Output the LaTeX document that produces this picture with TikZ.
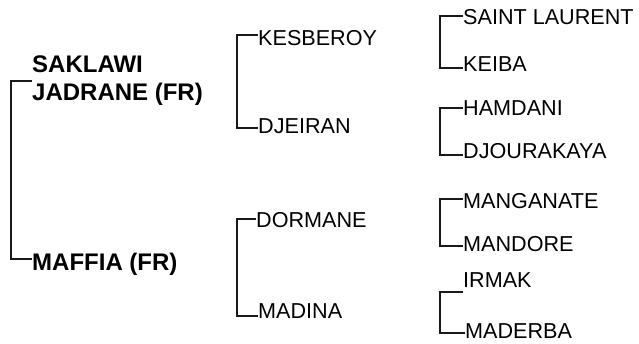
\documentclass[tikz,border=0pt]{standalone}
\usepackage{fontspec}
\setmainfont{Liberation Sans}
\begin{document}
\begin{tikzpicture}[x=1pt,y=-1pt,
  sire/.style={anchor=base west,inner sep=0pt,font=\fontsize{24}{26}\selectfont\bfseries},
  anc/.style={anchor=base west,inner sep=0pt,font=\fontsize{21.6}{24}\selectfont},
  bracket/.style={line width=2.6pt,color=black!90}]
\useasboundingbox (0,0) rectangle (639,343);
% generation 1
\node[sire] (sak) at (32,72) {SAKLAWI};
\node[sire] (jad) at (32,100) {JADRANE (FR)};
\node[sire] (maf) at (32,270) {MAFFIA (FR)};
\coordinate (g1t) at (11,81);
\coordinate (g1b) at (11,259);
\draw[bracket] (g1t -| jad.west) -- (g1t) -- (g1b) -- (g1b -| maf.west);
% generation 2
\node[anc] (kes) at (258,45) {KESBEROY};
\node[anc] (dje) at (258,133) {DJEIRAN};
\node[anc] (dor) at (256,227) {DORMANE};
\node[anc] (mad) at (258,318) {MADINA};
\coordinate (g2at) at (237,35);
\coordinate (g2ab) at (237,128);
\coordinate (g2bt) at (237,219);
\coordinate (g2bb) at (237,316);
\draw[bracket] (g2at -| kes.west) -- (g2at) -- (g2ab) -- (g2ab -| dje.west);
\draw[bracket] (g2bt -| dor.west) -- (g2bt) -- (g2bb) -- (g2bb -| mad.west);
% generation 3
\node[anc] (sai) at (463,24) {SAINT LAURENT};
\node[anc] (kei) at (463,71) {KEIBA};
\node[anc] (ham) at (463,115) {HAMDANI};
\node[anc] (djo) at (463,158) {DJOURAKAYA};
\node[anc] (mang) at (463,208) {MANGANATE};
\node[anc] (mando) at (463,251) {MANDORE};
\node[anc] (irm) at (463,287) {IRMAK};
\node[anc] (made) at (465,338) {MADERBA};
\coordinate (g3at) at (440,16);
\coordinate (g3ab) at (440,68);
\coordinate (g3bt) at (440,108);
\coordinate (g3bb) at (440,155);
\coordinate (g3ct) at (440,199);
\coordinate (g3cb) at (440,246);
\coordinate (g3dt) at (440,292);
\coordinate (g3db) at (440,333);
\draw[bracket] (g3at -| sai.west) -- (g3at) -- (g3ab) -- (g3ab -| kei.west);
\draw[bracket] (g3bt -| ham.west) -- (g3bt) -- (g3bb) -- (g3bb -| djo.west);
\draw[bracket] (g3ct -| mang.west) -- (g3ct) -- (g3cb) -- (g3cb -| mando.west);
\draw[bracket] (g3dt -| irm.west) -- (g3dt) -- (g3db) -- (g3db -| made.west);
\end{tikzpicture}
\end{document}
